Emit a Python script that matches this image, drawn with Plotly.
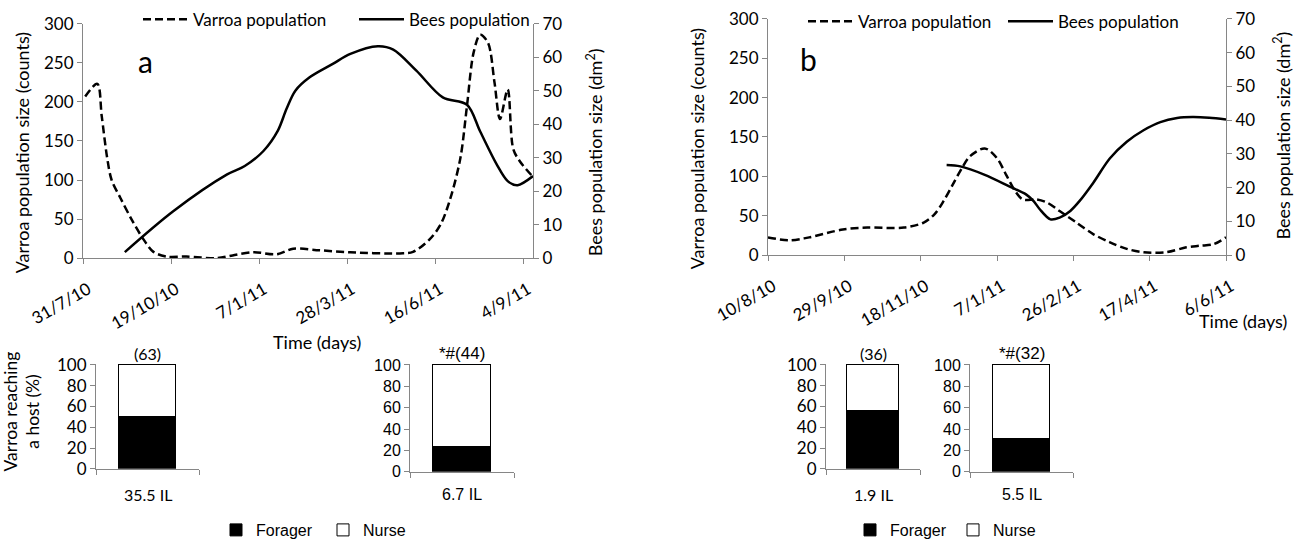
import plotly.graph_objects as go

# ---------------- Panel a data ----------------
a_varroa_dates = ['2010-08-02', '2010-08-13', '2010-08-17', '2010-08-22', '2010-08-26', '2010-09-03',
                  '2010-09-13', '2010-09-24', '2010-10-03', '2010-10-15', '2010-11-02', '2010-11-30',
                  '2010-12-14', '2011-01-02', '2011-01-23', '2011-02-07', '2011-03-03', '2011-03-31',
                  '2011-05-15', '2011-05-27', '2011-06-11', '2011-06-21', '2011-06-30', '2011-07-09',
                  '2011-07-15', '2011-07-21', '2011-07-27', '2011-08-03', '2011-08-09', '2011-08-14',
                  '2011-08-21', '2011-08-26', '2011-09-01', '2011-09-13']
a_varroa_counts = [207, 223, 182, 128, 100, 77,
                   50, 24, 8, 2, 2, 0,
                   3.5, 7.5, 5, 12, 10, 7.5,
                   6, 8, 24, 43, 77, 128,
                   195, 263, 286, 276, 225, 178,
                   216, 140, 124, 104]

a_bees_dates = ['2010-09-07', '2010-10-21', '2010-12-09', '2010-12-25', '2011-01-11', '2011-01-24',
                '2011-02-01', '2011-02-09', '2011-02-22', '2011-03-15', '2011-03-31', '2011-04-25',
                '2011-05-09', '2011-05-30', '2011-06-23', '2011-07-15', '2011-07-27', '2011-08-11',
                '2011-08-21', '2011-08-30', '2011-09-13']
a_bees_dm2 = [1.8, 14, 25, 27.5, 32, 38,
              44.6, 50, 54, 58, 61, 63.3,
              62.3, 56, 48, 45.8, 37.8, 28,
              23, 21.8, 24.5]

a_tick_dates = ['2010-07-31', '2010-10-19', '2011-01-07', '2011-03-28', '2011-06-16', '2011-09-04']
a_tick_labels = ['31/7/10', '19/10/10', '7/1/11', '28/3/11', '16/6/11', '4/9/11']
a_range = ['2010-07-31', '2011-09-13']

# ---------------- Panel b data ----------------
b_varroa_dates = ['2010-08-10', '2010-08-24', '2010-09-06', '2010-09-28', '2010-10-14', '2010-11-07',
                  '2010-11-20', '2010-11-27', '2010-12-03', '2010-12-09', '2010-12-15', '2010-12-20',
                  '2010-12-30', '2011-01-07', '2011-01-13', '2011-01-19', '2011-01-24', '2011-02-02',
                  '2011-02-09', '2011-02-17', '2011-02-28', '2011-03-11', '2011-03-22', '2011-04-02',
                  '2011-04-13', '2011-04-28', '2011-05-11', '2011-05-20', '2011-05-29', '2011-06-06']
b_varroa_counts = [22.6, 18.8, 22.6, 32.6, 35, 35,
                   41.4, 51.8, 68.6, 89.5, 110.4, 125,
                   135.5, 123, 102, 81, 70.7, 70.7,
                   66.5, 56, 41.4, 26.8, 16.3, 8,
                   3.8, 3.8, 10, 12, 14, 22.6]

b_bees_dates = ['2010-12-05', '2010-12-14', '2010-12-30', '2011-01-15', '2011-01-26', '2011-01-31',
                '2011-02-04', '2011-02-11', '2011-02-17', '2011-02-24', '2011-03-02', '2011-03-11',
                '2011-03-22', '2011-04-02', '2011-04-13', '2011-04-24', '2011-05-05', '2011-05-15',
                '2011-05-26', '2011-06-06']
b_bees_dm2 = [26.7, 26.3, 23.8, 20.4, 18, 16,
              13.6, 10.6, 11.1, 13.1, 16, 21.4,
              28.7, 33.6, 37, 39.4, 40.6, 40.9,
              40.7, 40.2]

b_tick_dates = ['2010-08-10', '2010-09-29', '2010-11-18', '2011-01-07', '2011-02-26', '2011-04-17', '2011-06-06']
b_tick_labels = ['10/8/10', '29/9/10', '18/11/10', '7/1/11', '26/2/11', '17/4/11', '6/6/11']
b_range = ['2010-08-10', '2011-06-06']

# ---------------- Bar charts ----------------
bar_labels = ['35.5 IL', '6.7 IL', '1.9 IL', '5.5 IL']
bar_n_labels = ['(63)', '*#(44)', '(36)', '*#(32)']
forager_pct = [50, 23, 56, 31]
nurse_pct = [50, 77, 44, 69]

W, H = 1299, 547
GRAY = '#868686'
F_MAIN = 'Lato, Carlito, Calibri, sans-serif'
F_ARIAL = 'Liberation Sans, Arial, sans-serif'


def px_x(p):
    return p / W


def px_y(p):
    return 1 - p / H


fig = go.Figure()

line_common = dict(color='black', width=2.5, shape='spline', smoothing=0.9)

fig.add_trace(go.Scatter(x=a_varroa_dates, y=a_varroa_counts, mode='lines', name='Varroa population',
                         line=dict(dash='8px,4px', **line_common), xaxis='x', yaxis='y', legend='legend'))
fig.add_trace(go.Scatter(x=a_bees_dates, y=a_bees_dm2, mode='lines', name='Bees population',
                         line=dict(**line_common), xaxis='x', yaxis='y2', legend='legend'))
fig.add_trace(go.Scatter(x=b_varroa_dates, y=b_varroa_counts, mode='lines', name='Varroa population',
                         line=dict(dash='8px,4px', **line_common), xaxis='x2', yaxis='y3', legend='legend2'))
fig.add_trace(go.Scatter(x=b_bees_dates, y=b_bees_dm2, mode='lines', name='Bees population',
                         line=dict(**line_common), xaxis='x2', yaxis='y4', legend='legend2'))

# bar subplots: (x axis id, y axis id, legend, show legend)
bar_axes = [('x3', 'y5', 'legend3', True), ('x4', 'y6', 'legend3', False),
            ('x5', 'y7', 'legend4', True), ('x6', 'y8', 'legend4', False)]
for i, (xa, ya, lg, sl) in enumerate(bar_axes):
    fig.add_trace(go.Bar(x=[0], y=[forager_pct[i]], name='Forager', width=0.55,
                         marker=dict(color='black', line=dict(color='black', width=1)),
                         xaxis=xa, yaxis=ya, legend=lg, showlegend=sl))
    fig.add_trace(go.Bar(x=[0], y=[nurse_pct[i]], name='Nurse', width=0.55,
                         marker=dict(color='white', line=dict(color='black', width=1)),
                         xaxis=xa, yaxis=ya, legend=lg, showlegend=sl))

axis_common = dict(showline=True, linecolor=GRAY, linewidth=1, ticks='outside', ticklen=5,
                   tickcolor=GRAY, showgrid=False, zeroline=False, automargin=False)
date_axis = dict(type='date', tickmode='array', tickangle=-30, ticklabelstandoff=9, ticklabelshift=5,
                 tickfont=dict(family=F_MAIN, size=17, color='black'))
yfont = dict(family=F_MAIN, size=17, color='black')

layout = dict(
    width=W, height=H, autosize=False,
    margin=dict(l=0, r=0, t=0, b=0, pad=0),
    paper_bgcolor='white', plot_bgcolor='rgba(0,0,0,0)',
    barmode='stack', bargap=0,
    xaxis=dict(domain=[px_x(83), px_x(533)], anchor='y', range=a_range,
               tickvals=a_tick_dates, ticktext=a_tick_labels, **date_axis, **axis_common),
    yaxis=dict(domain=[px_y(261), px_y(24)], anchor='x', range=[0, 300], dtick=50,
               tickfont=yfont, **axis_common),
    yaxis2=dict(overlaying='y', side='right', anchor='x', range=[0, 70], dtick=10,
                tickfont=yfont, **axis_common),
    xaxis2=dict(domain=[px_x(768), px_x(1226)], anchor='y3', range=b_range,
                tickvals=b_tick_dates, ticktext=b_tick_labels, **date_axis, **axis_common),
    yaxis3=dict(domain=[px_y(258), px_y(19)], anchor='x2', range=[0, 300], dtick=50,
                tickfont=yfont, **axis_common),
    yaxis4=dict(overlaying='y3', side='right', anchor='x2', range=[0, 70], dtick=10,
                tickfont=yfont, **axis_common),
)

bar_geom = [  # x-left, x-right, y-top(100), y-bottom(0) (pixels), font, tick size, label size
    (96, 199, 369, 474, F_MAIN, 17, 16),
    (410, 514, 369, 477, F_ARIAL, 16, 17),
    (826, 920, 369, 474, F_MAIN, 17, 16),
    (970, 1073, 369, 477, F_ARIAL, 16, 17),
]
BAR_TOP = 101  # a little head room so the outline at 100 % is not clipped
bar_x_common = {k: v for k, v in axis_common.items() if k not in ('ticks', 'ticklen', 'tickcolor')}
for i, (x0, x1, y0, y1, fnt, fs, ls) in enumerate(bar_geom):
    xn = 3 + i
    yn = 5 + i
    top_px = y1 - (y1 - y0) * BAR_TOP / 100
    layout[f'xaxis{xn}'] = dict(domain=[px_x(x0), px_x(x1)], anchor=f'y{yn}', range=[-0.5, 0.5],
                                showticklabels=False, ticks='',
                                minor=dict(tickmode='array', tickvals=[-0.5, 0.5], ticks='outside',
                                           ticklen=5, tickcolor=GRAY, showgrid=False),
                                **bar_x_common)
    layout[f'yaxis{yn}'] = dict(domain=[px_y(y1), px_y(top_px)], anchor=f'x{xn}', range=[0, BAR_TOP],
                                tickmode='array', tickvals=[0, 20, 40, 60, 80, 100],
                                tickfont=dict(family=fnt, size=fs, color='black'), **axis_common)

legend_common = dict(orientation='h', bgcolor='rgba(0,0,0,0)', xanchor='left', yanchor='middle',
                     tracegroupgap=0, traceorder='normal', entrywidthmode='pixels')
layout['legend'] = dict(x=px_x(138), y=px_y(20), font=dict(family=F_MAIN, size=17, color='black'),
                        itemwidth=45, entrywidth=156, **legend_common)
layout['legend2'] = dict(x=px_x(803), y=px_y(22), font=dict(family=F_MAIN, size=17, color='black'),
                         itemwidth=45, entrywidth=140, **legend_common)
layout['legend3'] = dict(x=px_x(216), y=px_y(536), font=dict(family=F_ARIAL, size=16, color='black'),
                         itemwidth=30, entrywidth=62, **legend_common)
layout['legend4'] = dict(x=px_x(850), y=px_y(536), font=dict(family=F_ARIAL, size=16, color='black'),
                         itemwidth=30, entrywidth=58, **legend_common)

fig.update_layout(**layout)

ann = []
# panel letters
ann.append(dict(text='a', x=px_x(145), y=px_y(62), font=dict(family=F_MAIN, size=30)))
ann.append(dict(text='b', x=px_x(808), y=px_y(60), font=dict(family=F_MAIN, size=30)))
# axis titles
ann.append(dict(text='Varroa population size (counts)', x=px_x(22), y=px_y(155), textangle=-90,
                font=dict(family=F_MAIN, size=18)))
ann.append(dict(text='Bees population size (dm<sup>2</sup>)', x=px_x(595), y=px_y(154), textangle=-90,
                font=dict(family=F_MAIN, size=18)))
ann.append(dict(text='Varroa population size (counts)', x=px_x(697), y=px_y(150), textangle=-90,
                font=dict(family=F_MAIN, size=18)))
ann.append(dict(text='Bees population size (dm<sup>2</sup>)', x=px_x(1283), y=px_y(137), textangle=-90,
                font=dict(family=F_MAIN, size=18)))
ann.append(dict(text='Time (days)', x=px_x(317), y=px_y(346), font=dict(family=F_MAIN, size=18)))
ann.append(dict(text='Time (days)', x=px_x(1243), y=px_y(325), font=dict(family=F_MAIN, size=18)))
ann.append(dict(text='Varroa reaching<br>a host (%)', x=px_x(22), y=px_y(416), textangle=-90,
                font=dict(family=F_MAIN, size=17.5)))
for a in ann:
    a.update(xref='paper', yref='paper', showarrow=False, xanchor='center', yanchor='middle',
             font=dict(color='black', **a['font']))

for i, (x0, x1, y0, y1, fnt, fs, ls) in enumerate(bar_geom):
    xn = 3 + i
    yn = 5 + i
    ann.append(dict(text=bar_n_labels[i], xref=f'x{xn}', yref=f'y{yn}', x=0, y=100, yanchor='bottom',
                    xanchor='center', yshift=0, showarrow=False,
                    font=dict(family=fnt, size=ls, color='black')))
    ann.append(dict(text=bar_labels[i], xref=f'x{xn}', yref='paper', x=0, y=px_y(500), showarrow=False,
                    xanchor='center', yanchor='middle', font=dict(family=fnt, size=16, color='black')))

fig.update_layout(annotations=ann)

fig.write_html('out.html')
